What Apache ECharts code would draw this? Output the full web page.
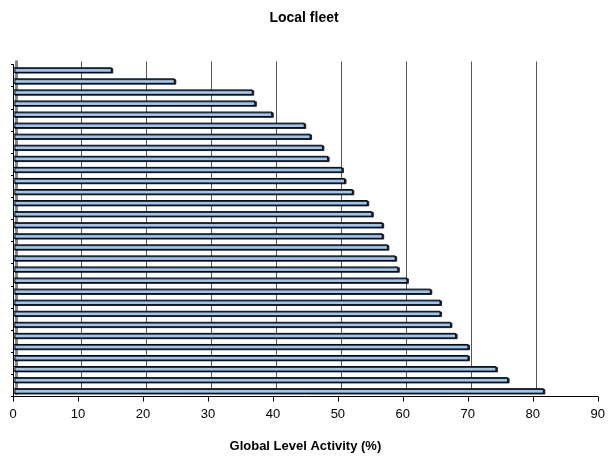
<!DOCTYPE html>
<html>
<head>
<meta charset="utf-8">
<script src="https://cdn.jsdelivr.net/npm/echarts@6/dist/echarts.min.js"></script>
<style>
html,body{margin:0;padding:0;background:#fff;}
#c{width:608px;height:461px;}
</style>
</head>
<body>
<div id="c"></div>
<script>
const titleText = 'Local fleet';
const xAxisTitle = 'Global Level Activity (%)';
const categories = ['1','2','3','4','5','6','7','8','9','10','11','12','13','14','15','16','17','18','19','20','21','22','23','24','25','26','27','28','29','30'];
const activity = [15.2, 24.9, 36.9, 37.3, 39.9, 44.9, 45.8, 47.7, 48.5, 50.7, 51.1, 52.3, 54.6, 55.3, 56.9, 56.9, 57.7, 58.9, 59.3, 60.7, 64.3, 65.8, 65.8, 67.4, 68.2, 70.1, 70.1, 74.4, 76.2, 81.7];
const xMin = 0, xMax = 90, xStep = 10;

const chart = echarts.init(document.getElementById('c'), null, {renderer: 'canvas'});
const font = '"Liberation Sans", Arial, sans-serif';
chart.setOption({
  animation: false,
  backgroundColor: '#fff',
  title: {
    text: titleText, left: 'center', top: 6,
    textStyle: {fontFamily: font, fontSize: 14, fontWeight: 'bold', color: '#000'}
  },
  grid: [
    {left: 16, right: 7, top: 61.5, bottom: 67.5, show: false},
    {left: 13, right: 10, top: 64.5, bottom: 64.5, show: false}
  ],
  xAxis: [
    {
      gridIndex: 0, type: 'value', min: xMin, max: xMax, interval: xStep,
      axisLine: {show: false}, axisTick: {show: false}, axisLabel: {show: false},
      splitLine: {show: true, showMaxLine: false, lineStyle: {color: '#555', width: 1}}
    },
    {
      gridIndex: 1, type: 'value', min: xMin, max: xMax, interval: xStep,
      name: xAxisTitle, nameLocation: 'middle', nameGap: 43,
      nameTextStyle: {fontFamily: font, fontSize: 13, fontWeight: 'bold', color: '#000'},
      axisLine: {show: true, lineStyle: {color: '#000', width: 1}},
      axisTick: {show: true, length: 5, lineStyle: {color: '#000'}},
      axisLabel: {margin: 11, fontFamily: font, fontSize: 13, color: '#000'},
      splitLine: {show: false}
    }
  ],
  yAxis: [
    {
      gridIndex: 0, type: 'category', data: categories, inverse: true,
      axisLine: {show: true, lineStyle: {color: '#888', width: 3}},
      axisTick: {show: false}, axisLabel: {show: false}, splitLine: {show: false}
    },
    {
      gridIndex: 1, type: 'category', data: categories, inverse: true,
      axisLine: {show: true, lineStyle: {color: '#000', width: 1}},
      axisTick: {show: true, length: 2, lineStyle: {color: '#000'}},
      axisLabel: {show: false}, splitLine: {show: false}
    }
  ],
  series: [{
    type: 'bar', xAxisIndex: 1, yAxisIndex: 1,
    data: activity, barWidth: 5.5,
    itemStyle: {
      color: '#9CC6F2', borderColor: '#000', borderWidth: 1,
      shadowColor: 'rgba(0,0,0,0.8)', shadowOffsetX: 1.5, shadowOffsetY: 0.8, shadowBlur: 0
    }
  }]
});
</script>
</body>
</html>
